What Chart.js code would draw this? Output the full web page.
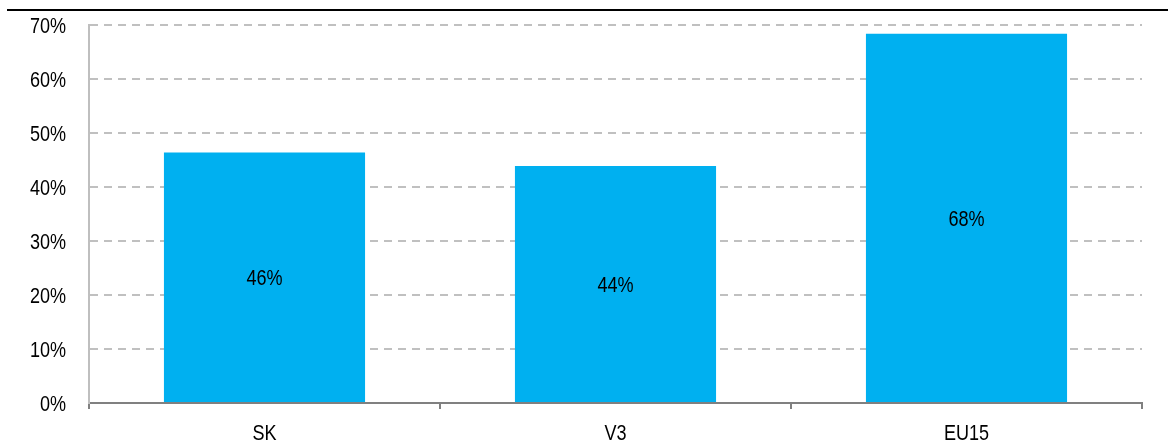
<!DOCTYPE html>
<html>
<head>
<meta charset="utf-8">
<script src="https://cdn.jsdelivr.net/npm/chart.js@4"></script>
<style>
  html, body { margin: 0; padding: 0; background: #fff; }
  #wrap { width: 1168px; height: 446px; position: relative; }
</style>
</head>
<body>
<div id="wrap"><canvas id="chart"></canvas></div>
<script>
// datos
const categorias = ["SK", "V3", "EU15"];
const valores = [46.4, 43.9, 68.4];
const yMin = 0;
const yMax = 70;
const yPaso = 10;

const FUENTE = "22px 'Liberation Sans', Arial, sans-serif";
const ESTRECHO = 0.82; // imita Arial Narrow

// texto comprimido horizontalmente (línea base alfabética)
function textoEstrecho(ctx, texto, x, y, align) {
    ctx.save();
    ctx.translate(x, y);
    ctx.scale(ESTRECHO, 1);
    ctx.font = FUENTE;
    ctx.fillStyle = "#000";
    ctx.textAlign = align;
    ctx.textBaseline = "alphabetic";
    ctx.fillText(texto, 0, 0);
    ctx.restore();
}

// línea negra superior
const lineaSuperior = {
    id: "lineaSuperior",
    afterDraw(chart) {
        const ctx = chart.ctx;
        ctx.save();
        ctx.strokeStyle = "#000";
        ctx.lineWidth = 2;
        ctx.beginPath();
        ctx.moveTo(7, 10);
        ctx.lineTo(chart.width, 10);
        ctx.stroke();
        ctx.restore();
    }
};

// etiquetas de ejes y de barras
const textos = {
    id: "textos",
    afterDraw(chart) {
        const ctx = chart.ctx;
        const sy = chart.scales.y;
        const sx = chart.scales.x;
        sy.ticks.forEach(t => {
            textoEstrecho(ctx, t.value + "%", sy.right - 23, sy.getPixelForValue(t.value) + 7.5, "right");
        });
        sx.ticks.forEach((t, i) => {
            textoEstrecho(ctx, categorias[i], sx.getPixelForTick(i), sx.top + 37, "center");
        });
        const meta = chart.getDatasetMeta(0);
        meta.data.forEach((bar, i) => {
            const v = chart.data.datasets[0].data[i];
            textoEstrecho(ctx, Math.round(v) + "%", bar.x, (bar.y + bar.base) / 2 + 8, "center");
        });
    }
};

new Chart(document.getElementById("chart"), {
    type: "bar",
    data: {
        labels: categorias,
        datasets: [{
            data: valores,
            backgroundColor: "#00B0F0",
            borderWidth: 0,
            barPercentage: 0.573,
            categoryPercentage: 1
        }]
    },
    options: {
        responsive: true,
        maintainAspectRatio: false,
        animation: false,
        layout: { padding: { top: 25, right: 26, left: 0, bottom: 0 } },
        plugins: {
            legend: { display: false },
            tooltip: { enabled: false }
        },
        scales: {
            x: {
                grid: {
                    offset: true,
                    drawOnChartArea: false,
                    drawTicks: true,
                    tickLength: 6,
                    color: "#808080",
                    lineWidth: 2
                },
                border: { color: "#808080", width: 2 },
                ticks: { display: false },
                afterFit(scale) { scale.height = 43; }
            },
            y: {
                min: yMin,
                max: yMax,
                ticks: { stepSize: yPaso, display: false },
                grid: {
                    drawTicks: false,
                    color: ctx => ctx.tick.value === 0 ? "rgba(0,0,0,0)" : "#c0c0c0",
                    lineWidth: 2
                },
                border: { color: "#bfbfbf", width: 2, dash: [8, 6] },
                afterFit(scale) {
                    scale.width = 89;
                    scale.paddingTop = 0;
                    scale.paddingBottom = 0;
                }
            }
        }
    },
    plugins: [lineaSuperior, textos]
});
</script>
</body>
</html>
